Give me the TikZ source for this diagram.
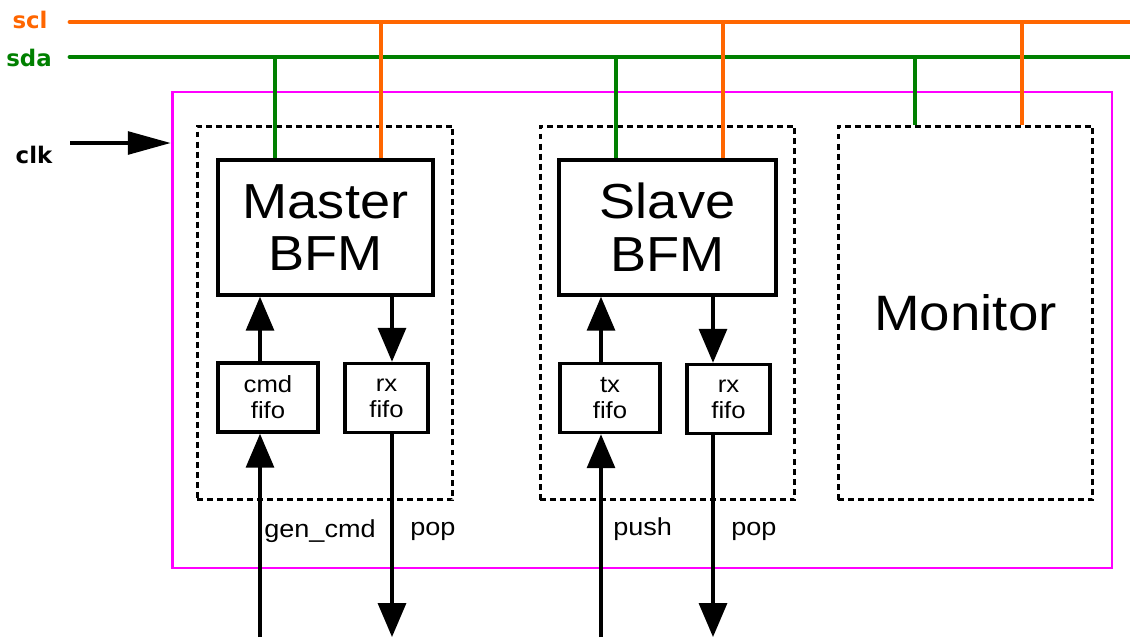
\documentclass[tikz,border=0pt]{standalone}
\usepackage{fontspec}
\setmainfont{Liberation Sans}[FakeStretch=1.1]
\newfontfamily\lblfont{DejaVu Sans}
\usetikzlibrary{arrows.meta}
\definecolor{sclc}{RGB}{255,102,0}
\definecolor{sdac}{RGB}{0,128,0}
\definecolor{magc}{RGB}{255,0,255}
\begin{document}
\begin{tikzpicture}[x=0.02cm,y=-0.02cm,
  bus/.style={line width=2.7pt, line cap=round},
  tap/.style={line width=2.7pt},
  frame/.style={draw=magc, line width=1.6pt, minimum width=18.8cm, minimum height=9.52cm},
  grp/.style={draw, line width=1.7pt, dash pattern=on 3.4pt off 2.3pt, minimum width=5.12cm, minimum height=7.48cm},
  bfm/.style={draw, line width=2pt, minimum width=4.3cm, minimum height=2.7cm, font=\fontsize{28}{30}\selectfont, align=center},
  fifo/.style={draw, line width=2pt, minimum height=1.38cm, font=\fontsize{13.3}{14.7}\selectfont, align=center},
  arr/.style={line width=1.9pt, -{Triangle[length=19.3pt,width=15.9pt]}},
  clkarr/.style={line width=1.9pt, -{Triangle[length=24.4pt,width=13pt]}},
  lbl/.style={font=\fontsize{14}{15}\selectfont, anchor=base west, inner sep=0pt},
  bustxt/.style={font=\lblfont\bfseries\fontsize{13}{15}\selectfont}
]
\useasboundingbox (0,0) rectangle (1130,637);

% frame and groups
\node[frame] (frame) at (642,330) {};
\node[grp] (mgrp) at (325,313) {};
\node[grp, minimum width=5.1cm] (sgrp) at (667.5,313) {};
\node[grp, minimum width=5.1cm, font=\fontsize{28.3}{30}\selectfont] (mon) at (965.5,313) {Monitor};

% boxes
\node[bfm] (master) at (325.5,227.5) {Master\\BFM};
\node[bfm, minimum width=4.34cm] (slave) at (667.5,227.5) {Slave\\BFM};
\node[fifo, minimum width=2cm] (cmdf) at (268,397.5) {cmd\\fifo};
\node[fifo, minimum width=1.66cm] (mrx) at (386.5,398) {rx\\fifo};
\node[fifo, minimum width=2cm] (txf) at (610,398) {tx\\fifo};
\node[fifo, minimum width=1.66cm] (srx) at (728.5,399) {rx\\fifo};

% arrow coordinates
\coordinate (xa) at (260,637);
\coordinate (xb) at (392,637);
\coordinate (xc) at (601,637);
\coordinate (xd) at (713,637);

\draw[arr] (cmdf.north -| xa) -- (master.south -| xa);
\draw[arr] (master.south -| xb) -- (mrx.north -| xb);
\draw[arr] (xa) -- (cmdf.south -| xa);
\draw[arr] (mrx.south -| xb) -- (xb);

\draw[arr] (txf.north -| xc) -- (slave.south -| xc);
\draw[arr] (slave.south -| xd) -- (srx.north -| xd);
\draw[arr] (xc) -- (txf.south -| xc);
\draw[arr] (srx.south -| xd) -- (xd);

% labels
\node[lbl] (lgen) at (264,537) {gen\_cmd};
\node[lbl] (lpop1) at (410,535) {pop};
\node[lbl] (lpush) at (613,535) {push};
\node[lbl] (lpop2) at (731,535) {pop};

% clk
\coordinate (clkin) at (70,143);
\draw[clkarr] (clkin) -- (frame.west |- clkin);
\node[bustxt] (clktxt) at (34,155) {clk};

% buses
\coordinate (sclL) at (70,22);
\coordinate (sclR) at (1130,22);
\coordinate (sdaL) at (70,57);
\coordinate (sdaR) at (1130,57);
\draw[bus, sdac] (sdaL) -- (sdaR);
\draw[bus, sclc] (sclL) -- (sclR);
\node[bustxt, text=sclc] (scltxt) at (30,20) {scl};
\node[bustxt, text=sdac] (sdatxt) at (29,58) {sda};

% taps
\coordinate (ms) at (275,57);
\coordinate (mc) at (381,22);
\coordinate (ss) at (616,57);
\coordinate (sc) at (723,22);
\coordinate (ns) at (915,57);
\coordinate (nc) at (1022,22);
\draw[tap, sdac] (ms) -- (master.north -| ms);
\draw[tap, sdac] (ss) -- (slave.north -| ss);
\draw[tap, sdac] (ns) -- (mon.north -| ns);
\draw[tap, sclc] (mc) -- (master.north -| mc);
\draw[tap, sclc] (sc) -- (slave.north -| sc);
\draw[tap, sclc] (nc) -- (mon.north -| nc);
\end{tikzpicture}
\end{document}
